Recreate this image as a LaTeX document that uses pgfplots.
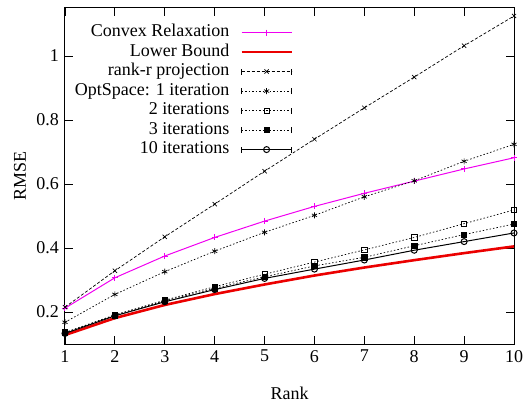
\documentclass[border=0pt]{standalone}
\usepackage{fontspec}
\setmainfont{Liberation Serif}
\newfontfamily\tnr{Liberation Serif}
\usepackage{pgfplots}
\pgfplotsset{compat=1.18}
\definecolor{gpmag}{RGB}{240,0,240}
\definecolor{gpred}{RGB}{235,0,0}
\pgfplotsset{
  gpbar/.style={legend image code/.code={
    \draw[##1] (0pt,0pt) -- (50pt,0pt);
    \draw[##1,solid,mark=none] (0pt,-3pt) -- (0pt,3pt) (50pt,-3pt) -- (50pt,3pt);
    \draw[##1,solid] plot coordinates {(25pt,0pt)};
  }},
  gpnobar/.style={legend image code/.code={
    \draw[##1] (0pt,0pt) -- (50pt,0pt);
    \draw[##1,solid] plot coordinates {(25pt,0pt)};
  }},
}
\begin{document}
\tnr\fontsize{18}{20}\selectfont
\begin{tikzpicture}[font=\tnr\fontsize{18}{20}\selectfont]
\useasboundingbox (-65pt,-58pt) rectangle (467pt,344pt);
\begin{axis}[
  at={(0pt,0pt)}, anchor=south west,
  scale only axis, width=449pt, height=336pt,
  xmin=1, xmax=10, ymin=0.1, ymax=1.15,
  xtick={1,2,3,4,5,6,7,8,9,10},
  ytick={0.2,0.4,0.6,0.8,1},
  tick align=inside, major tick length=8pt,
  tick style={black, line width=0.8pt},
  axis line style={line width=1pt},
  /pgf/number format/assume math mode=true,
  tick label style={font=\tnr\fontsize{18}{20}\selectfont},
  xlabel={Rank}, ylabel={RMSE},
  label style={font=\tnr\fontsize{18}{20}\selectfont},
  xlabel style={at={(axis description cs:0.5,-0.146)}, anchor=center},
  ylabel style={at={(axis description cs:-0.1,0.5)}, anchor=center},
  legend cell align=right, legend plot pos=right,
  legend style={draw=none, fill=none, at={(axis description cs:0.508,0.952)}, anchor=north east,
    inner sep=0pt, row sep=3pt, column sep=11pt, font=\tnr\fontsize{18}{20}\selectfont,
    nodes={inner sep=0pt, text height=12.5pt, text depth=4pt}},
]
\addplot[gpmag, line width=1pt, mark=+, mark size=3pt, gpnobar] coordinates {
(1,0.212) (2,0.307) (3,0.375) (4,0.433) (5,0.484) (6,0.530) (7,0.571) (8,0.609) (9,0.647) (10,0.682)};
\addlegendentry{Convex Relaxation}
\addplot[gpred, line width=2.6pt, gpnobar] coordinates {
(1,0.128) (2,0.181) (3,0.222) (4,0.256) (5,0.286) (6,0.314) (7,0.339) (8,0.362) (9,0.384) (10,0.405)};
\addlegendentry{Lower Bound}
\addplot[black, line width=0.7pt, dash pattern=on 3pt off 2pt, mark=x, mark size=3pt, mark options={solid}, gpbar] coordinates {
(1,0.215) (2,0.329) (3,0.435) (4,0.537) (5,0.640) (6,0.740) (7,0.838) (8,0.934) (9,1.032) (10,1.125)};
\addlegendentry{rank-r projection}
\addplot[black, line width=0.7pt, dash pattern=on 1.5pt off 2pt, mark=asterisk, mark size=3pt, mark options={solid}, gpbar] coordinates {
(1,0.168) (2,0.255) (3,0.326) (4,0.390) (5,0.449) (6,0.502) (7,0.560) (8,0.610) (9,0.671) (10,0.724)};
\addlegendentry{OptSpace: 1 iteration}
\addplot[black, line width=0.7pt, dash pattern=on 1.5pt off 2pt, mark=square, mark size=2.7pt, mark options={solid}, gpbar] coordinates {
(1,0.136) (2,0.191) (3,0.237) (4,0.279) (5,0.318) (6,0.356) (7,0.394) (8,0.433) (9,0.476) (10,0.519)};
\addlegendentry{2 iterations}
\addplot[black, line width=0.7pt, dash pattern=on 1.5pt off 2pt, mark=square*, mark size=2.7pt, mark options={solid}, gpbar] coordinates {
(1,0.135) (2,0.190) (3,0.235) (4,0.274) (5,0.310) (6,0.344) (7,0.371) (8,0.407) (9,0.442) (10,0.475)};
\addlegendentry{3 iterations}
\addplot[black, line width=1pt, mark=o, mark size=3pt, gpbar] coordinates {
(1,0.133) (2,0.188) (3,0.232) (4,0.270) (5,0.305) (6,0.334) (7,0.3625) (8,0.393) (9,0.420) (10,0.447)};
\addlegendentry{10 iterations}
\end{axis}
\end{tikzpicture}
\end{document}
